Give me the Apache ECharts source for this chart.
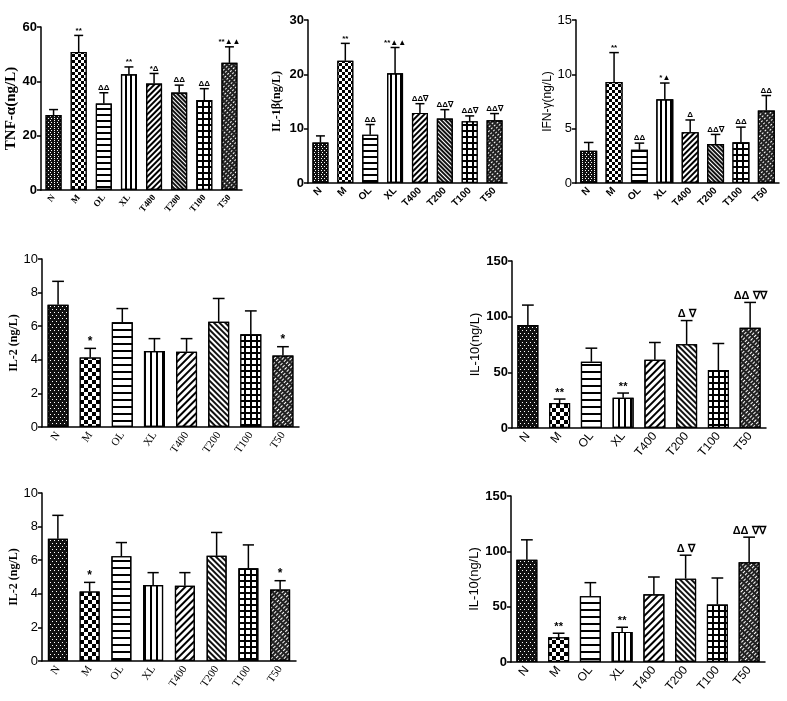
<!DOCTYPE html>
<html>
<head>
<meta charset="utf-8">
<script src="https://cdn.jsdelivr.net/npm/echarts@6/dist/echarts.min.js"></script>
<style>
  html, body { margin: 0; padding: 0; background: #fff; }
  #chart { width: 787px; height: 701px; }
</style>
</head>
<body>
<div id="chart"></div>
<script type="text/javascript">
    var groups = ['N', 'M', 'OL', 'XL', 'T400', 'T200', 'T100', 'T50'];

    var tnfMean = [27.6, 50.8, 31.8, 42.6, 39.2, 35.9, 33.1, 46.8];
    var tnfSd   = [2.0, 6.1, 4.0, 2.7, 3.7, 2.7, 4.2, 5.9];
    var tnfMark = ['', '**', 'ΔΔ', '**', '*Δ', 'ΔΔ', 'ΔΔ', '**▲▲'];

    var il1Mean = [7.44, 22.5, 8.9, 20.2, 12.9, 11.86, 11.37, 11.56];
    var il1Sd   = [1.23, 3.2, 1.86, 4.74, 1.7, 1.64, 0.98, 1.22];
    var il1Mark = ['', '**', 'ΔΔ', '**▲▲', 'ΔΔ∇', 'ΔΔ∇', 'ΔΔ∇', 'ΔΔ∇'];

    var ifnMean = [2.97, 9.3, 3.06, 7.7, 4.68, 3.58, 3.76, 6.67];
    var ifnSd   = [0.76, 2.7, 0.61, 1.5, 1.12, 0.89, 1.38, 1.38];
    var ifnMark = ['', '**', 'ΔΔ', '*▲', 'Δ', 'ΔΔ∇', 'ΔΔ', 'ΔΔ'];

    var il2Mean = [7.27, 4.14, 6.24, 4.52, 4.48, 6.26, 5.52, 4.26];
    var il2Sd   = [1.4, 0.54, 0.81, 0.74, 0.78, 1.39, 1.39, 0.52];
    var il2Mark = ['', '*', '', '', '', '', '', '*'];

    var il10Mean = [92.5, 22.4, 59.5, 27.2, 61.2, 75.3, 52.0, 90.1];
    var il10Sd   = [17.9, 3.6, 12.2, 4.2, 15.6, 21.2, 23.9, 22.7];
    var il10Mark = ['', '**', '', '**', '', 'Δ ∇', '', 'ΔΔ ∇∇'];

    var SERIF = '"Liberation Serif", "Times New Roman", serif';
    var SANS = '"Liberation Sans", Arial, sans-serif';

    // fill patterns per group, k = spacing scale
    function fills(k) {
        return [
            {color: '#111', decal: {symbol: 'rect', symbolSize: 1, color: '#fff', dashArrayX: [[1, 2 * k], [0, 1.5 * k, 1, 0.5 * k]], dashArrayY: [1, 1 * k], rotation: 0}},
            {color: '#000', decal: {symbol: 'rect', symbolSize: 1, color: '#fff', dashArrayX: [[3 * k, 3 * k], [0, 3 * k, 3 * k, 0]], dashArrayY: [3 * k, 0], rotation: 0}},
            {color: '#fff', decal: {symbol: 'rect', symbolSize: 1, color: '#000', dashArrayX: [1, 0], dashArrayY: [1.2, 4 * k], rotation: 0}},
            {color: '#fff', decal: {symbol: 'rect', symbolSize: 1, color: '#000', dashArrayX: [1.2, 3 * k], dashArrayY: [1, 0], rotation: 0}},
            {color: '#fff', decal: {symbol: 'rect', symbolSize: 1, color: '#000', dashArrayX: [1, 0], dashArrayY: [1.2, 2 * k], rotation: -Math.PI / 4}},
            {color: '#fff', decal: {symbol: 'rect', symbolSize: 1, color: '#111', dashArrayX: [1, 0], dashArrayY: [2, 1.1 * k], rotation: Math.PI / 4}},
            {color: '#000', decal: {symbol: 'rect', symbolSize: 1, color: '#fff', dashArrayX: [3.5 * k, 1.3], dashArrayY: [3.5 * k, 1.3], rotation: 0}},
            {color: '#222', decal: {symbol: 'rect', symbolSize: 1, color: '#fff', dashArrayX: [2 * k, 1.5 * k], dashArrayY: [1, 1.5 * k], rotation: -Math.PI / 4}}
        ];
    }

    var option = {
        backgroundColor: '#fff',
        animation: false,
        grid: [], xAxis: [], yAxis: [], series: []
    };

    function addPanel(c) {
        var i = option.grid.length;
        var line = {color: '#000', width: 1.5};
        option.grid.push({left: c.left, top: c.top, width: c.width, height: c.height});
        option.xAxis.push({
            gridIndex: i, type: 'category', data: groups,
            axisLine: {lineStyle: line},
            axisTick: {alignWithLabel: true, length: 4, lineStyle: line},
            axisLabel: {interval: 0, rotate: c.rotate, color: '#000', margin: 6,
                fontFamily: c.catFamily, fontSize: c.catSize, fontWeight: c.catWeight}
        });
        option.yAxis.push({
            gridIndex: i, type: 'value', min: 0, max: c.max, interval: c.interval,
            splitLine: {show: false},
            axisLine: {show: true, lineStyle: line},
            axisTick: {show: true, length: 4, lineStyle: line},
            axisLabel: {color: '#000', margin: 4, fontFamily: SANS, fontSize: c.tickSize, fontWeight: c.tickWeight},
            name: c.name, nameLocation: 'middle', nameGap: c.nameGap,
            nameTextStyle: {color: '#000', fontFamily: c.nameFamily, fontSize: c.nameSize, fontWeight: c.nameWeight}
        });
        var f = fills(c.k);
        option.series.push({
            type: 'bar', xAxisIndex: i, yAxisIndex: i, barWidth: c.barWidth,
            data: c.mean.map(function (v, j) {
                var st = {borderColor: '#000', borderWidth: 1.2, color: f[j].color, decal: f[j].decal};
                return {value: v, itemStyle: st};
            })
        });
        // upper error bar + significance marks
        option.series.push({
            type: 'custom', xAxisIndex: i, yAxisIndex: i, z: 3,
            data: c.mean.map(function (v, j) { return [j, v, c.sd[j]]; }),
            renderItem: function (params, api) {
                var x = api.value(0), m = api.value(1), e = api.value(2);
                var p0 = api.coord([x, m]);
                var p1 = api.coord([x, m + e]);
                var hw = c.barWidth * 0.28;
                var s = {stroke: '#000', lineWidth: 1.5};
                var mark = c.mark[params.dataIndex];
                return {
                    type: 'group',
                    children: [
                        {type: 'line', shape: {x1: p0[0], y1: p0[1], x2: p1[0], y2: p1[1]}, style: s},
                        {type: 'line', shape: {x1: p1[0] - hw, y1: p1[1], x2: p1[0] + hw, y2: p1[1]}, style: s},
                        {type: 'text', style: {text: mark, x: p1[0], y: p1[1] - 1, align: 'center', verticalAlign: 'bottom',
                            fill: '#000', font: 'bold ' + c.markSize + 'px ' + SANS}}
                    ]
                };
            }
        });
    }

    addPanel({left: 41, top: 27, width: 201, height: 163, max: 60, interval: 20,
        name: 'TNF-α(ng/L)', nameFamily: SERIF, nameSize: 15, nameWeight: 'bold', nameGap: 20,
        tickSize: 13, tickWeight: 'bold', catFamily: SERIF, catSize: 9, catWeight: 'bold', rotate: 50,
        mean: tnfMean, sd: tnfSd, mark: tnfMark, markSize: 8, barWidth: 16, k: 0.9});

    addPanel({left: 308, top: 20, width: 199, height: 163, max: 30, interval: 10,
        name: 'IL-1β(ng/L)', nameFamily: SERIF, nameSize: 12, nameWeight: 'bold', nameGap: 25,
        tickSize: 13, tickWeight: 'bold', catFamily: SANS, catSize: 10, catWeight: 'bold', rotate: 45,
        mean: il1Mean, sd: il1Sd, mark: il1Mark, markSize: 8, barWidth: 16, k: 0.9});

    addPanel({left: 576, top: 20, width: 203, height: 163, max: 15, interval: 5,
        name: 'IFN-γ(ng/L)', nameFamily: SANS, nameSize: 12, nameWeight: 'normal', nameGap: 19,
        tickSize: 13, tickWeight: 'normal', catFamily: SANS, catSize: 10, catWeight: 'bold', rotate: 45,
        mean: ifnMean, sd: ifnSd, mark: ifnMark, markSize: 8, barWidth: 17, k: 0.9});

    addPanel({left: 42, top: 259, width: 257, height: 168, max: 10, interval: 2,
        name: 'IL-2 (ng/L)', nameFamily: SERIF, nameSize: 12, nameWeight: 'bold', nameGap: 21,
        tickSize: 13, tickWeight: 'normal', catFamily: SERIF, catSize: 11, catWeight: 'normal', rotate: 55,
        mean: il2Mean, sd: il2Sd, mark: il2Mark, markSize: 12, barWidth: 21, k: 1.1});

    addPanel({left: 512, top: 261, width: 254, height: 167, max: 150, interval: 50,
        name: 'IL-10(ng/L)', nameFamily: SANS, nameSize: 13, nameWeight: 'normal', nameGap: 29,
        tickSize: 13, tickWeight: 'bold', catFamily: SANS, catSize: 12, catWeight: 'normal', rotate: 50,
        mean: il10Mean, sd: il10Sd, mark: il10Mark, markSize: 11, barWidth: 21, k: 1.1});

    addPanel({left: 42, top: 493, width: 254, height: 168, max: 10, interval: 2,
        name: 'IL-2 (ng/L)', nameFamily: SERIF, nameSize: 12, nameWeight: 'bold', nameGap: 21,
        tickSize: 13, tickWeight: 'normal', catFamily: SERIF, catSize: 11, catWeight: 'normal', rotate: 55,
        mean: il2Mean, sd: il2Sd, mark: il2Mark, markSize: 12, barWidth: 20, k: 1.1});

    addPanel({left: 511, top: 496, width: 254, height: 166, max: 150, interval: 50,
        name: 'IL-10(ng/L)', nameFamily: SANS, nameSize: 13, nameWeight: 'normal', nameGap: 29,
        tickSize: 13, tickWeight: 'bold', catFamily: SANS, catSize: 12, catWeight: 'normal', rotate: 50,
        mean: il10Mean, sd: il10Sd, mark: il10Mark, markSize: 11, barWidth: 21, k: 1.1});

    var myChart = echarts.init(document.getElementById('chart'));
    myChart.setOption(option);
</script>
</body>
</html>
